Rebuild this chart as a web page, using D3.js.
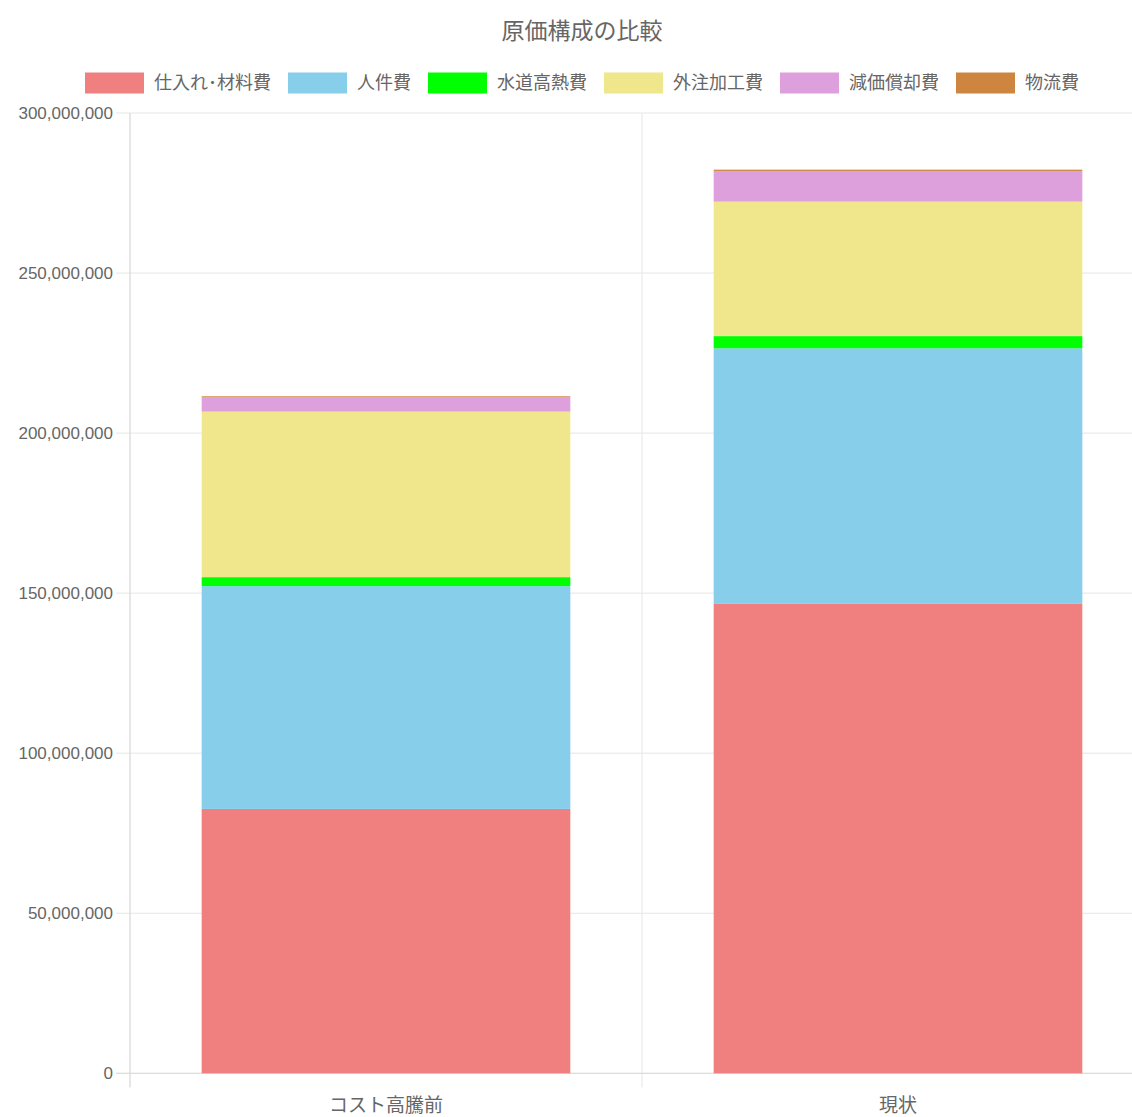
<!DOCTYPE html>
<html><head><meta charset="utf-8">
<script src="https://cdn.jsdelivr.net/npm/d3@7"></script>
<style>body{margin:0;background:#fff}svg{display:block}</style>
</head><body>
<svg id="c" width="1132" height="1117"></svg>
<script>
const categories = ["コスト高騰前", "現状"];
const seriesNames = ["仕入れ･材料費", "人件費", "水道高熱費", "外注加工費", "減価償却費", "物流費"];
const seriesColors = ["#F08080", "#87CEEB", "#00FF00", "#F0E68C", "#DDA0DD", "#CD853F"];
const material = [82.6e6, 146.8e6];
const labor = [69.6e6, 79.7e6];
const utilities = [2.8e6, 3.8e6];
const outsourcing = [51.7e6, 42.0e6];
const depreciation = [4.5e6, 9.6e6];
const logistics = [0.3e6, 0.4e6];
const yTicks = [0, 50e6, 100e6, 150e6, 200e6, 250e6, 300e6];
const titleText = "原価構成の比較";

const seriesValues = [material, labor, utilities, outsourcing, depreciation, logistics];
const table = categories.map((c, i) => {
  const row = {cat: c};
  seriesNames.forEach((s, j) => row[s] = seriesValues[j][i]);
  return row;
});

const svg = d3.select("#c");
const FONT = "'Liberation Sans','Noto Sans CJK JP',sans-serif";
const TXT = "#666";
const GRID = "#e6e6e6";
const pLeft = 130, pRight = 1154, pTop = 113, pBottom = 1073.3;

const x = d3.scaleBand().domain(categories).range([pLeft, pRight]).padding(0);
const y = d3.scaleLinear().domain([0, 300e6]).range([pBottom, pTop]);
const barW = x.bandwidth() * 0.72;

// horizontal grid
svg.append("g").selectAll("line").data(yTicks).join("line")
  .attr("x1", pLeft - 14).attr("x2", 1132)
  .attr("y1", d => y(d)).attr("y2", d => y(d))
  .attr("stroke", GRID).attr("stroke-width", 1);
// vertical grid
const vlines = categories.map(c => x(c)).concat([pRight]);
svg.append("g").selectAll("line").data(vlines).join("line")
  .attr("x1", d => d).attr("x2", d => d)
  .attr("y1", pTop).attr("y2", pBottom + 14)
  .attr("stroke", GRID).attr("stroke-width", 1);
// axis lines
svg.append("line").attr("x1", pLeft).attr("x2", pLeft).attr("y1", pTop).attr("y2", pBottom + 14)
  .attr("stroke", "#d9d9d9");
svg.append("line").attr("x1", pLeft - 14).attr("x2", 1132).attr("y1", pBottom).attr("y2", pBottom)
  .attr("stroke", "#d9d9d9");

// y labels
const fmt = d3.format(",");
svg.append("g").selectAll("text").data(yTicks).join("text")
  .attr("x", 113).attr("y", d => y(d)).attr("dy", "0.35em")
  .attr("text-anchor", "end").attr("font-family", FONT).attr("font-size", 17)
  .attr("fill", TXT).text(d => fmt(d));

// x labels
svg.append("g").selectAll("text").data(categories).join("text")
  .attr("x", d => x(d) + x.bandwidth() / 2).attr("y", 1105).attr("dy", "0.35em")
  .attr("text-anchor", "middle").attr("font-family", FONT).attr("font-size", 19)
  .attr("fill", TXT).text(d => d);

// bars
const stacked = d3.stack().keys(seriesNames)(table);
svg.append("g").selectAll("g").data(stacked).join("g")
  .attr("fill", (d, i) => seriesColors[i])
  .selectAll("rect").data(d => d).join("rect")
  .attr("x", d => x(d.data.cat) + (x.bandwidth() - barW) / 2)
  .attr("width", barW)
  .attr("y", d => y(d[1]))
  .attr("height", d => y(d[0]) - y(d[1]));

// title
svg.append("text").attr("x", 582).attr("y", 31).attr("dy", "0.35em")
  .attr("text-anchor", "middle").attr("font-family", FONT).attr("font-size", 23)
  .attr("fill", TXT).text(titleText);

// legend
const lg = svg.append("g");
const boxW = 59, boxH = 21, gapBT = 10, gapItem = 17, legY = 83;
const items = seriesNames.map((s, i) => {
  const g = lg.append("g");
  g.append("rect").attr("width", boxW).attr("height", boxH).attr("y", -boxH / 2)
    .attr("fill", seriesColors[i]);
  const t = g.append("text").attr("x", boxW + gapBT).attr("dy", "0.35em")
    .attr("font-family", FONT).attr("font-size", 18).attr("fill", TXT).text(s);
  return {g, w: boxW + gapBT + t.node().getComputedTextLength()};
});
const total = d3.sum(items, d => d.w) + gapItem * (items.length - 1);
let cx = 582 - total / 2;
items.forEach(it => { it.g.attr("transform", `translate(${cx},${legY})`); cx += it.w + gapItem; });
</script>
</body></html>
